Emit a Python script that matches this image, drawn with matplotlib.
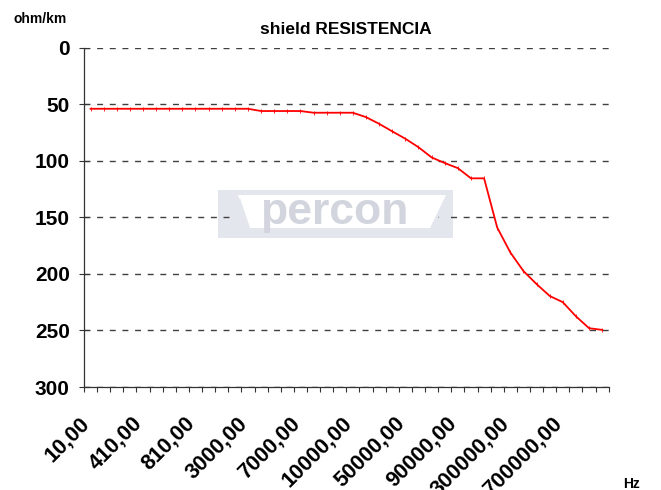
import numpy as np
import matplotlib
matplotlib.use("Agg")
import matplotlib.pyplot as plt
from matplotlib.patches import Rectangle, Polygon
from matplotlib.transforms import ScaledTranslation

plt.rcParams["font.family"] = ["Liberation Sans", "DejaVu Sans"]

# frequency categories (Hz) - only every 4th one is labelled on the chart
freqs = [10, 110, 210, 310, 410, 510, 610, 710, 810, 910,
         1000, 2000, 3000, 4000, 5000, 6000, 7000, 8000, 9000, 9500,
         10000, 20000, 30000, 40000, 50000, 60000, 70000, 80000, 90000, 100000,
         200000, 250000, 300000, 400000, 500000, 600000, 700000, 800000, 900000, 1000000]

# shield resistance (ohm/km)
resist = [54, 54, 54, 54, 54, 54, 54, 54, 54, 54, 54, 54, 54,
          56, 56, 56, 56,
          57.5, 57.5, 57.5, 57.5,
          61.4, 67.3, 74, 80.5, 88, 97, 102, 106.5, 115.5, 115.5,
          159, 181, 197.5, 209, 219.5, 225, 237.5, 248, 249.5]

y_ticks = [0, 50, 100, 150, 200, 250, 300]

labels = [f"{f:.2f}".replace(".", ",") for f in freqs]
x = np.arange(len(freqs))

W, H = 661, 490
fig = plt.figure(figsize=(W / 100, H / 100), dpi=100)
ax = fig.add_axes([84 / W, 1 - 387 / H, 524.7 / W, 339.3 / H])

# watermark logo (behind grid)
def px(xp, yp):
    return ((xp - 84) / 524.7, (387 - yp) / 339.3)

x0, y0 = px(218, 238)
x1, y1 = px(453, 190)
ax.add_patch(Rectangle((x0, y0), x1 - x0, y1 - y0, transform=ax.transAxes,
                       facecolor="#e4e6ee", edgecolor="none", zorder=0.5))
ax.add_patch(Polygon([px(238, 195), px(446, 195), px(430, 228), px(250, 228)],
                     closed=True, transform=ax.transAxes,
                     facecolor="white", edgecolor="none", zorder=0.6))
ax.add_patch(Polygon([px(222, 234), px(240, 198), px(252, 234)],
                     closed=True, transform=ax.transAxes,
                     facecolor="#e4e6ee", edgecolor="none", zorder=0.7))
ax.add_patch(Polygon([px(430, 234), px(449, 198), px(449, 234)],
                     closed=True, transform=ax.transAxes,
                     facecolor="#e4e6ee", edgecolor="none", zorder=0.7))
ax.text(*px(334, 224), "percon", transform=ax.transAxes, ha="center",
        va="baseline", fontsize=32, fontweight="bold", color="#d2d5de", zorder=0.8)

ax.plot(x, resist, color="red", lw=1.3, marker="|", ms=3, mew=0.6, zorder=3)

ax.set_xlim(-0.5, len(freqs) - 0.5)
ax.set_ylim(300, 0)
ax.set_yticks(y_ticks)
ax.set_yticklabels([str(v) for v in y_ticks], fontsize=15, fontweight="bold")
ax.tick_params(axis="y", direction="inout", length=6.5, width=0.8,
               color="#333333", pad=7)

ax.set_xticks(x[::4])
ax.set_xticklabels(labels[::4], rotation=45, ha="right", va="center",
                   rotation_mode="anchor", fontsize=15.5, fontweight="bold")
ax.tick_params(axis="x", which="major", length=0, pad=24)
ax.set_xticks(np.arange(-0.5, len(freqs), 1), minor=True)
ax.tick_params(axis="x", which="minor", direction="out", length=3.6,
               width=0.8, color="#333333")
shift = ScaledTranslation(-4 / 100, 0, fig.dpi_scale_trans)
for lab in ax.get_xticklabels():
    lab.set_transform(lab.get_transform() + shift)

ax.yaxis.grid(True, color="#404040", lw=1, linestyle=(0, (4.3, 4.8)))
ax.set_axisbelow(True)
for s in ["top", "right"]:
    ax.spines[s].set_visible(False)
for s in ["left", "bottom"]:
    ax.spines[s].set_color("#333333")
    ax.spines[s].set_linewidth(0.9)
ax.set_facecolor("white")

fig.text(346 / W, 1 - 34 / H, "shield RESISTENCIA", ha="center", va="baseline",
         fontsize=12.5, fontweight="bold")
fig.text(13 / W, 1 - 23 / H, "ohm/km", ha="left", va="baseline",
         fontsize=10, fontweight="bold")
fig.text(623 / W, 1 - 488 / H, "Hz", ha="left", va="baseline",
         fontsize=10, fontweight="bold")

fig.savefig("out.png", dpi=100)
